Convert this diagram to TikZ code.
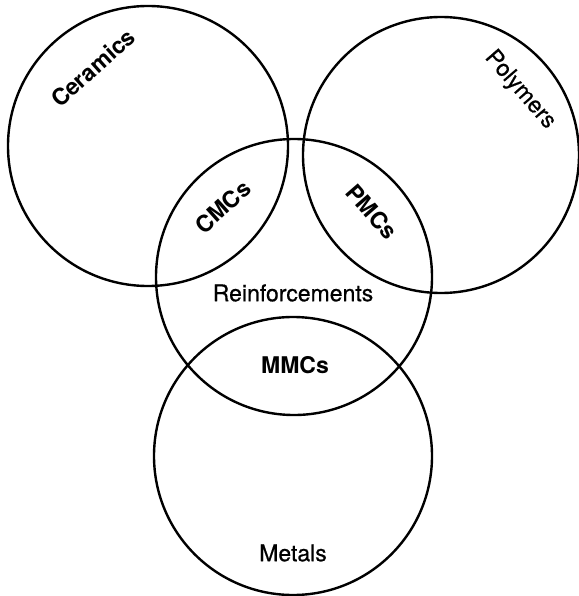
\documentclass[tikz,border=0pt]{standalone}
\usepackage{fontspec}
\setmainfont{TeX Gyre Heros}
\newfontfamily\labfont[FakeBold=0.6]{TeX Gyre Heros}
\begin{document}
\begin{tikzpicture}[x=1pt,y=-1pt,
  ring/.style={draw, line width=2.4pt, circle, inner sep=0pt, minimum size=#1},
  lab/.style={font=\labfont\fontsize{23}{26}\selectfont, inner sep=0pt},
  blab/.style={font=\fontsize{23}{26}\selectfont\bfseries, inner sep=0pt}]
\useasboundingbox (0,0) rectangle (578,596);
\node[ring=280pt] (cer) at (148,146) {};
\node[ring=276pt] (pol) at (441,155) {};
\node[ring=276pt] (rei) at (294,277) {};
\node[ring=278pt] (met) at (293,456) {};
\node[blab, rotate=42] (tcer) at (93,68) {Ceramics};
\node[lab, rotate=-49] (tpol) at (520,90) {Polymers};
\node[blab, rotate=42] (tcmc) at (223,207) {CMCs};
\node[blab, rotate=-49] (tpmc) at (372,212) {PMCs};
\node[lab] (trei) at (293,293) {Reinforcements};
\node[blab] (tmmc) at (295,365) {MMCs};
\node[lab] (tmet) at (293,553) {Metals};
\end{tikzpicture}
\end{document}
